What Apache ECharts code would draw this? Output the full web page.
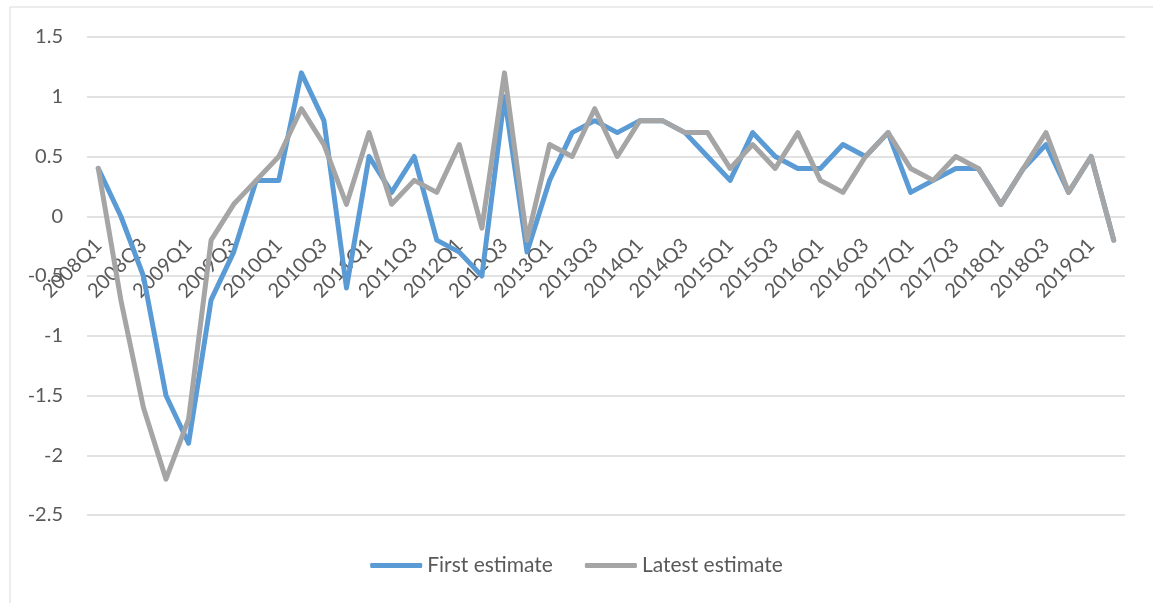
<!DOCTYPE html>
<html>
<head>
<meta charset="utf-8">
<script src="https://cdn.jsdelivr.net/npm/echarts@6/dist/echarts.min.js"></script>
<style>
  html, body { margin: 0; padding: 0; background: #fff; }
  #chart { width: 1153px; height: 603px; }
</style>
</head>
<body>
<div id="chart"></div>
<script>
// quarters 2008Q1 .. 2019Q2
const quarters = []
for (let y = 2008; y <= 2019; y++) {
  for (let q = 1; q <= 4; q++) {
    if (y === 2019 && q > 2) break
    quarters.push(y + 'Q' + q)
  }
}

const firstEstimate = [
  0.4, 0.0, -0.5, -1.5, -1.9, -0.7, -0.3, 0.3, 0.3, 1.2,
  0.8, -0.6, 0.5, 0.2, 0.5, -0.2, -0.3, -0.5, 1.0, -0.3,
  0.3, 0.7, 0.8, 0.7, 0.8, 0.8, 0.7, 0.5, 0.3, 0.7,
  0.5, 0.4, 0.4, 0.6, 0.5, 0.7, 0.2, 0.3, 0.4, 0.4,
  0.1, 0.4, 0.6, 0.2, 0.5, -0.2
]

const latestEstimate = [
  0.4, -0.7, -1.6, -2.2, -1.7, -0.2, 0.1, 0.3, 0.5, 0.9,
  0.6, 0.1, 0.7, 0.1, 0.3, 0.2, 0.6, -0.1, 1.2, -0.2,
  0.6, 0.5, 0.9, 0.5, 0.8, 0.8, 0.7, 0.7, 0.4, 0.6,
  0.4, 0.7, 0.3, 0.2, 0.5, 0.7, 0.4, 0.3, 0.5, 0.4,
  0.1, 0.4, 0.7, 0.2, 0.5, -0.2
]

const textColor = '#595959'
const fontFamily = 'Lato, "Open Sans", sans-serif'

const myChart = echarts.init(document.getElementById('chart'))
const option = {
  animation: false,
  textStyle: { fontFamily: fontFamily },
  graphic: [
    {
      type: 'rect',
      shape: { x: 10, y: 7, width: 1160, height: 620 },
      style: { fill: 'none', stroke: '#d9d9d9', lineWidth: 1 }
    }
  ],
  grid: {
    left: 87,
    right: 28,
    top: 37,
    bottom: 88
  },
  legend: {
    bottom: 22,
    left: 'center',
    icon: 'roundRect',
    itemWidth: 52,
    itemHeight: 5,
    itemGap: 32,
    textStyle: { color: textColor, fontSize: 21, fontFamily: fontFamily },
    data: ['First estimate', 'Latest estimate']
  },
  xAxis: {
    type: 'category',
    data: quarters,
    boundaryGap: true,
    // the category axis sits on the zero line, labels hang below it
    offset: -299,
    axisLine: { show: false, onZero: false },
    axisTick: { show: false },
    axisLabel: {
      interval: 1,
      rotate: 45,
      margin: 26,
      color: textColor,
      fontSize: 20,
      fontFamily: fontFamily
    }
  },
  yAxis: {
    type: 'value',
    min: -2.5,
    max: 1.5,
    interval: 0.5,
    axisLine: { show: false },
    axisTick: { show: false },
    splitLine: { lineStyle: { color: '#d9d9d9', width: 1.5 } },
    axisLabel: {
      margin: 24,
      color: textColor,
      fontSize: 20,
      fontFamily: fontFamily
    }
  },
  series: [
    {
      name: 'First estimate',
      type: 'line',
      data: firstEstimate,
      showSymbol: false,
      symbol: 'none',
      lineStyle: { color: '#5B9BD5', width: 5, cap: 'round', join: 'round' },
      itemStyle: { color: '#5B9BD5' }
    },
    {
      name: 'Latest estimate',
      type: 'line',
      data: latestEstimate,
      showSymbol: false,
      symbol: 'none',
      lineStyle: { color: '#A5A5A5', width: 5, cap: 'round', join: 'round' },
      itemStyle: { color: '#A5A5A5' }
    }
  ]
}
myChart.setOption(option)
</script>
</body>
</html>
